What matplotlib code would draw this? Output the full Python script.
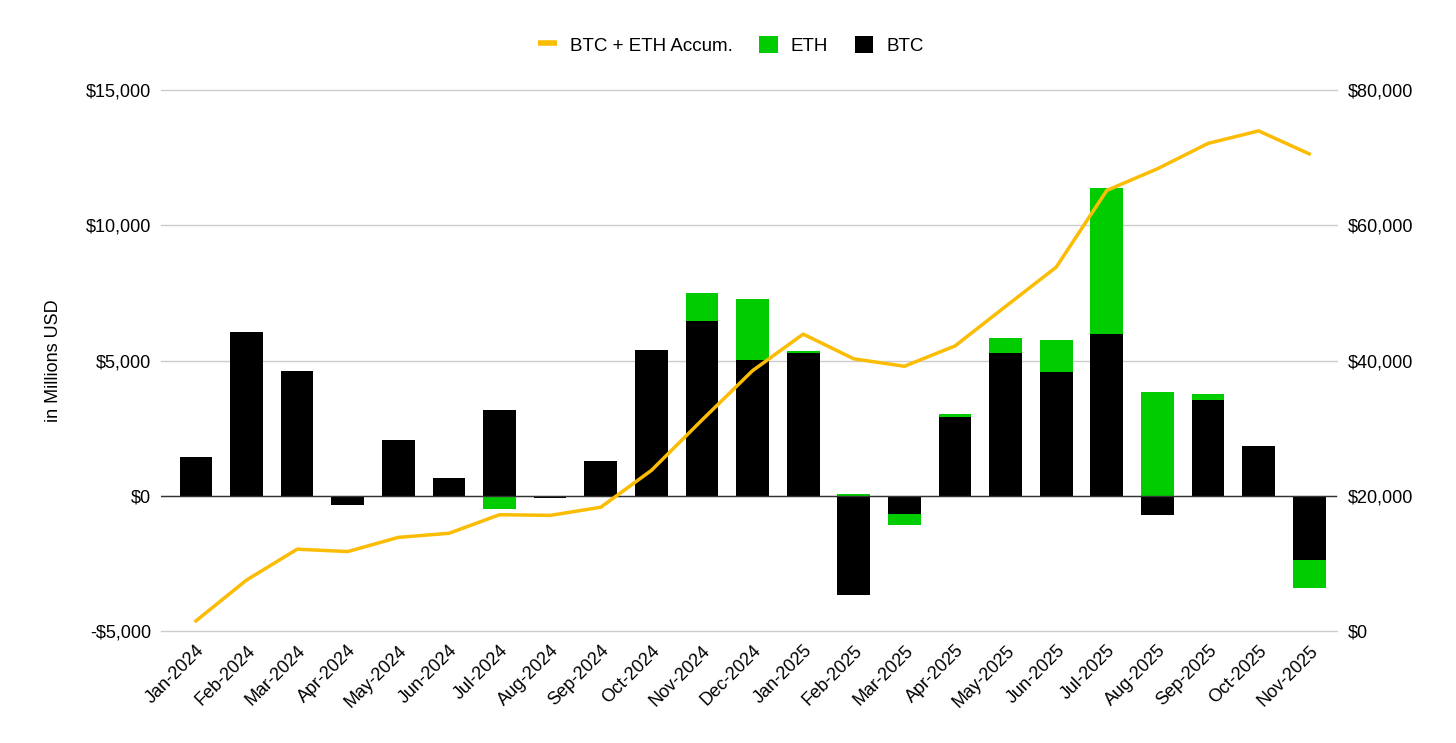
import numpy as np
import matplotlib
matplotlib.use('Agg')
import matplotlib.pyplot as plt
from matplotlib.ticker import FuncFormatter
from matplotlib.lines import Line2D
from matplotlib.patches import Patch

plt.rcParams['font.family'] = ['Liberation Sans', 'DejaVu Sans']

months = ['Jan-2024', 'Feb-2024', 'Mar-2024', 'Apr-2024', 'May-2024', 'Jun-2024',
          'Jul-2024', 'Aug-2024', 'Sep-2024', 'Oct-2024', 'Nov-2024', 'Dec-2024',
          'Jan-2025', 'Feb-2025', 'Mar-2025', 'Apr-2025', 'May-2025', 'Jun-2025',
          'Jul-2025', 'Aug-2025', 'Sep-2025', 'Oct-2025', 'Nov-2025']

# monthly flows, millions USD
btc = [1450, 6050, 4620, -330, 2070, 640, 3180, -100, 1270, 5370, 6470, 5030,
       5260, -3660, -680, 2930, 5260, 4590, 5990, -720, 3530, 1840, -2390]
eth = [0, 0, 0, 0, 0, 0, -490, 0, -40, 0, 1020, 2240,
       100, 70, -390, 90, 570, 1160, 5370, 3850, 250, 0, -1010]

# cumulative BTC + ETH, millions USD (right axis)
accum = [1500, 7540, 12100, 11750, 13850, 14450, 17200, 17100, 18300, 23750, 31200, 38500,
         43900, 40250, 39150, 42150, 48000, 53800, 65150, 68350, 72100, 73950, 70550]

green = '#00cc00'
gold = '#fbbc04'

fig = plt.figure(figsize=(14.56, 7.43), dpi=100)
ax = fig.add_axes([0.1106, 0.1507, 0.8077, 0.7282])
ax2 = ax.twinx()

x = np.arange(len(months))
btc = np.array(btc)
eth = np.array(eth)
# stack eth on the btc bar when signs agree, otherwise start at zero
eth_base = np.where(np.sign(eth) == np.sign(btc), btc, 0)

w = 0.645
ax.bar(x, btc, w, color='black', zorder=2)
ax.bar(x, eth, w, bottom=eth_base, color=green, zorder=2)
ax.axhline(0, color='#333333', lw=1, zorder=3)

ax2.plot(x, accum, color=gold, lw=2.5, zorder=4)

ax.set_ylim(-5000, 15000)
ax.set_yticks([-5000, 0, 5000, 10000, 15000])
ax2.set_ylim(0, 80000)
ax2.set_yticks([0, 20000, 40000, 60000, 80000])
ax.set_xlim(-0.69, 22.55)

def money(v, pos):
    if v < 0:
        return '-${:,.0f}'.format(-v)
    return '${:,.0f}'.format(v)

ax.yaxis.set_major_formatter(FuncFormatter(money))
ax2.yaxis.set_major_formatter(FuncFormatter(money))

ax.grid(axis='y', color='#cccccc', lw=1, zorder=0)
ax.set_axisbelow(True)
for gl in ax.get_ygridlines():
    gl.set_clip_on(False)
for a in (ax, ax2):
    for s in a.spines.values():
        s.set_visible(False)
    a.tick_params(length=0, labelsize=13, colors='black')
ax.tick_params(axis='y', pad=7)
ax2.tick_params(axis='y', pad=8)

ax.set_xticks(x)
ax.set_xticklabels(months, rotation=45, ha='right', va='top', rotation_mode='anchor')
ax.tick_params(axis='x', pad=8)

ax.set_ylabel('in Millions USD', fontsize=13, labelpad=17)

handles = [Line2D([0], [0], color=gold, lw=4, solid_capstyle='butt'),
           Patch(facecolor=green),
           Patch(facecolor='black')]
fig.legend(handles, ['BTC + ETH Accum.', 'ETH', 'BTC'], loc='center',
           bbox_to_anchor=(0.502, 0.939), ncol=3, frameon=False, fontsize=13.5,
           handlelength=1.0, handleheight=1.0, columnspacing=1.4, handletextpad=0.7)

fig.savefig('out.png', dpi=100)
